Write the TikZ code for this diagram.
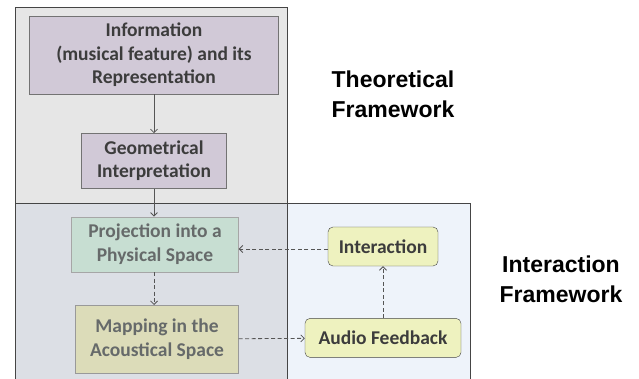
\documentclass[tikz,border=0pt]{standalone}
\usepackage{fontspec}
\setmainfont{Carlito}
\newfontfamily\headfont{Liberation Sans}
\usetikzlibrary{positioning,arrows.meta}

\definecolor{theorybg}{HTML}{E6E6E6}
\definecolor{projbg}{HTML}{DCDFE5}
\definecolor{interbg}{HTML}{EEF3FA}
\definecolor{framecol}{HTML}{454545}
\definecolor{lilac}{HTML}{D1C9D7}
\definecolor{mint}{HTML}{C7DED2}
\definecolor{khaki}{HTML}{DCDCB9}
\definecolor{lemon}{HTML}{EEF2BF}
\definecolor{darktext}{HTML}{3C3C3C}
\definecolor{fadetext}{HTML}{666A6A}
\definecolor{arrowcol}{HTML}{555555}

\tikzset{
  box/.style={draw=black!55,align=center,inner sep=0pt,
    font=\bfseries\fontsize{19.5}{23.5}\selectfont},
  roundbox/.style={box,draw=framecol,rounded corners=5pt,fill=lemon,text=darktext},
  arr/.style={arrowcol,line width=0.8pt,-{Straight Barb[length=3.5pt,width=7pt]}},
  dasharr/.style={arr,dash pattern=on 4pt off 2.5pt},
  headline/.style={align=center,font=\headfont\bfseries\fontsize{23}{30}\selectfont}
}

\begin{document}
\begin{tikzpicture}[x=1pt,y=-1pt]
\useasboundingbox (0,0) rectangle (639,379);
% frames
\draw[framecol,line width=0.8pt,fill=theorybg] (15,7) rectangle (287,203);
\draw[framecol,line width=0.8pt,fill=projbg] (15,203) rectangle (287,390);
\draw[framecol,line width=0.8pt,fill=interbg] (287,203) rectangle (470,390);

\node[box,fill=lilac,text=darktext,minimum width=249pt,minimum height=78pt] (info) at (154,55)
  {Information\\(musical feature) and its\\Representation};
\node[box,fill=lilac,text=darktext,minimum width=145pt,minimum height=55pt] (geo)[below=39pt of info]
  {Geometrical\\Interpretation};
\node[box,fill=mint,draw=black!35,text=fadetext,minimum width=167pt,minimum height=55pt] (proj)[below=28pt of geo,xshift=1pt]
  {Projection into a\\Physical Space};
\node[box,fill=khaki,draw=black!40,text=fadetext,minimum width=163pt,minimum height=68pt] (map)[below=33pt of proj,xshift=2pt]
  {Mapping in the\\Acoustical Space};
\node[roundbox,minimum width=110pt,minimum height=39pt] (inter) at (383,246.5) {Interaction};
\node[roundbox,minimum width=156pt,minimum height=39pt] (audio)[below=52pt of inter] {Audio Feedback};

\node[headline] (theo) at (393,94) {Theoretical\\Framework};
\node[headline] (iframe) at (561,279) {Interaction\\Framework};

\draw[arr] (info) -- (geo);
\draw[arr] (geo.south) -- (geo.south |- proj.north);
\draw[dasharr] (proj.south -| geo.south) -- (geo.south |- map.north);
\draw[dasharr] (map) -- (audio);
\draw[dasharr] (audio) -- (inter);
\draw[dasharr] ([yshift=-2.5pt]inter.west) -- ([yshift=-2.5pt]inter.west -| proj.east);
\end{tikzpicture}
\end{document}
